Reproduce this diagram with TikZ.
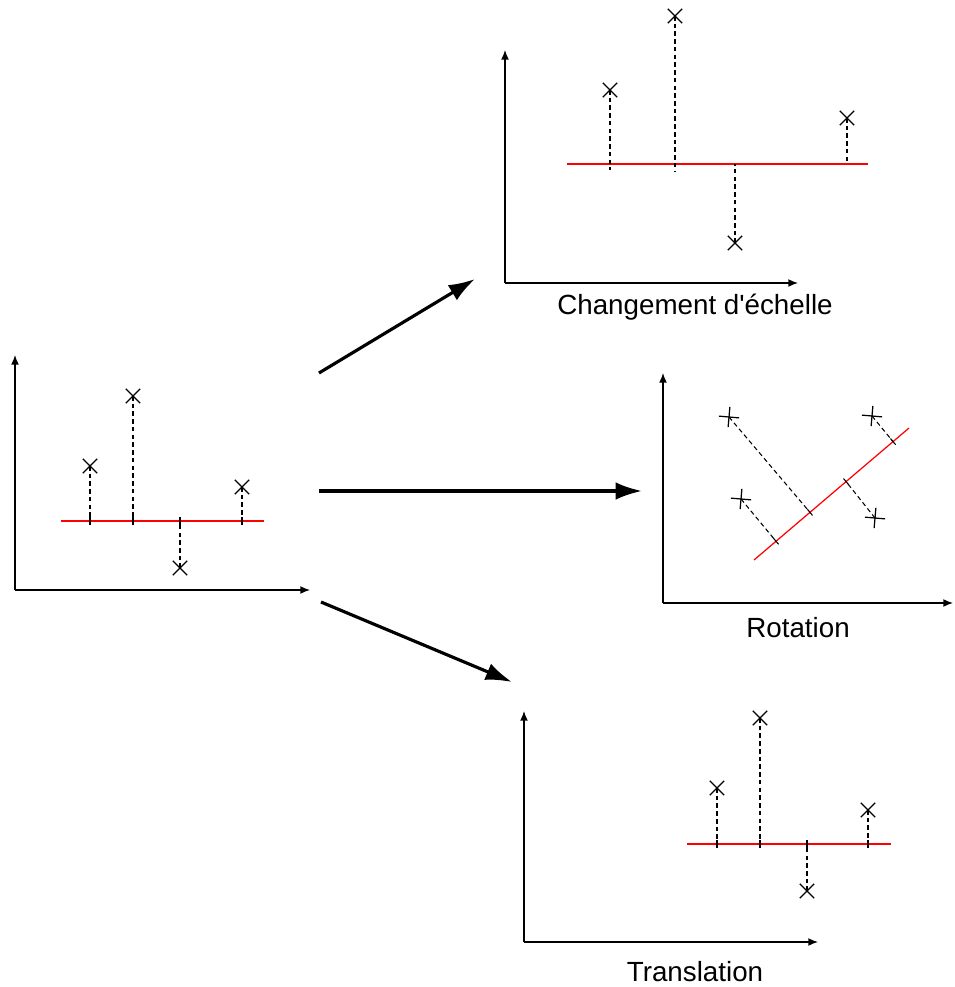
\documentclass[tikz,border=0pt]{standalone}
\usepackage{fontspec}
\setmainfont{Liberation Sans}
\usetikzlibrary{shapes}
\usetikzlibrary{arrows.meta}
\usetikzlibrary{calc}

\begin{document}
\begin{tikzpicture}[x=0.02cm,y=-0.02cm]
	\tikzstyle{axis}=[line width=0.8pt,-{Latex[length=5.5pt,width=4.5pt]}]
	\tikzstyle{fitline}=[red,line width=0.7pt]
	\tikzstyle{pt}=[cross out,draw,line width=0.7pt,minimum size=7.5pt,inner sep=0pt]
	\tikzstyle{proj}=[line width=0.6pt,dash pattern=on 2.6pt off 1.8pt]
	\tikzstyle{tickmark}=[line width=0.6pt]
	\tikzstyle{big}=[line width=1.8pt,-{Latex[length=15pt,width=10pt]}]
	\tikzstyle{caption}=[font=\fontsize{15.8}{18}\selectfont,anchor=base]

	\useasboundingbox (0,0) rectangle (954,987);

	% original data
	\coordinate (o0) at (15,590);
	\draw[axis] (o0) -- (15,355);
	\draw[axis] (o0) -- (310,590);
	\draw[fitline] (61,521) -- (264,521);
	\node[pt] (o1) at (90,466) {};
	\node[pt] (o2) at (133,396) {};
	\node[pt] (o3) at (180,568) {};
	\node[pt] (o4) at (242,487) {};
	\coordinate (of1) at (90,521);
	\coordinate (of2) at (133,521);
	\coordinate (of3) at (180,521);
	\coordinate (of4) at (242,521);
	\draw[proj] (o1.center) -- (of1);
	\draw[proj] (o2.center) -- (of2);
	\draw[proj] (o3.center) -- (of3);
	\draw[proj] (o4.center) -- (of4);
	\foreach \f in {of1,of2,of3,of4}
		\draw[tickmark] ($(\f)+(0,-4)$) -- ($(\f)+(0,4)$);

	% scaling
	\coordinate (s0) at (505,283);
	\draw[axis] (s0) -- (505,50);
	\draw[axis] (s0) -- (798,283);
	\draw[fitline] (567,164) -- (868,164);
	\node[pt] (s1) at (610,90) {};
	\node[pt] (s2) at (675,16) {};
	\node[pt] (s3) at (735,243) {};
	\node[pt] (s4) at (847,118) {};
	\coordinate (sf1) at (610,170);
	\coordinate (sf2) at (675,172);
	\coordinate (sf3) at (735,164);
	\coordinate (sf4) at (847,164);
	\draw[proj] (s1.center) -- (sf1);
	\draw[proj] (s2.center) -- (sf2);
	\draw[proj] (s3.center) -- (sf3);
	\draw[proj] (s4.center) -- (sf4);
	\node[caption] (scap) at (695,314) {Changement d\textquotesingle échelle};

	% rotation
	\coordinate (r0) at (663,603);
	\draw[axis] (r0) -- (663,373);
	\draw[axis] (r0) -- (953,603);
	\coordinate (ra) at (754,560);
	\coordinate (rb) at (909,428);
	\draw[fitline] (ra) -- (rb);
	\node[pt,rotate=40] (r1) at (729,417) {};
	\node[pt,rotate=40] (r2) at (741,499) {};
	\node[pt,rotate=40] (r3) at (872,416) {};
	\node[pt,rotate=40] (r4) at (875,518) {};
	\coordinate (rf1) at ($(ra)!0.361!(rb)$);
	\coordinate (rf2) at ($(ra)!0.142!(rb)$);
	\coordinate (rf3) at ($(ra)!0.897!(rb)$);
	\coordinate (rf4) at ($(ra)!0.594!(rb)$);
	\draw[proj] (r1.center) -- (rf1);
	\draw[proj] (r2.center) -- (rf2);
	\draw[proj] (r3.center) -- (rf3);
	\draw[proj] (r4.center) -- (rf4);
	\foreach \f in {rf1,rf2,rf3,rf4}
		\draw[tickmark] ($(\f)+(50:4)$) -- ($(\f)+(230:4)$);
	\node[caption] (rcap) at (798,637) {Rotation};

	% translation
	\coordinate (t0) at (524,942);
	\draw[axis] (t0) -- (524,711);
	\draw[axis] (t0) -- (818,942);
	\draw[fitline] (687,844) -- (891,844);
	\node[pt] (t1) at (717,788) {};
	\node[pt] (t2) at (760,718) {};
	\node[pt] (t3) at (807,891) {};
	\node[pt] (t4) at (868,810) {};
	\coordinate (tf1) at (717,844);
	\coordinate (tf2) at (760,844);
	\coordinate (tf3) at (807,844);
	\coordinate (tf4) at (868,844);
	\draw[proj] (t1.center) -- (tf1);
	\draw[proj] (t2.center) -- (tf2);
	\draw[proj] (t3.center) -- (tf3);
	\draw[proj] (t4.center) -- (tf4);
	\foreach \f in {tf1,tf2,tf3,tf4}
		\draw[tickmark] ($(\f)+(0,-4)$) -- ($(\f)+(0,4)$);
	\node[caption] (tcap) at (695,981) {Translation};

	% transformations
	\coordinate (a0) at (319,373);
	\coordinate (a1) at (475,279);
	\coordinate (b0) at (319,491);
	\coordinate (b1) at (642,491);
	\coordinate (c0) at (321,602);
	\coordinate (c1) at (512,682);
	\draw[big] (a0) -- (a1);
	\draw[big] (b0) -- (b1);
	\draw[big] (c0) -- (c1);
\end{tikzpicture}
\end{document}
